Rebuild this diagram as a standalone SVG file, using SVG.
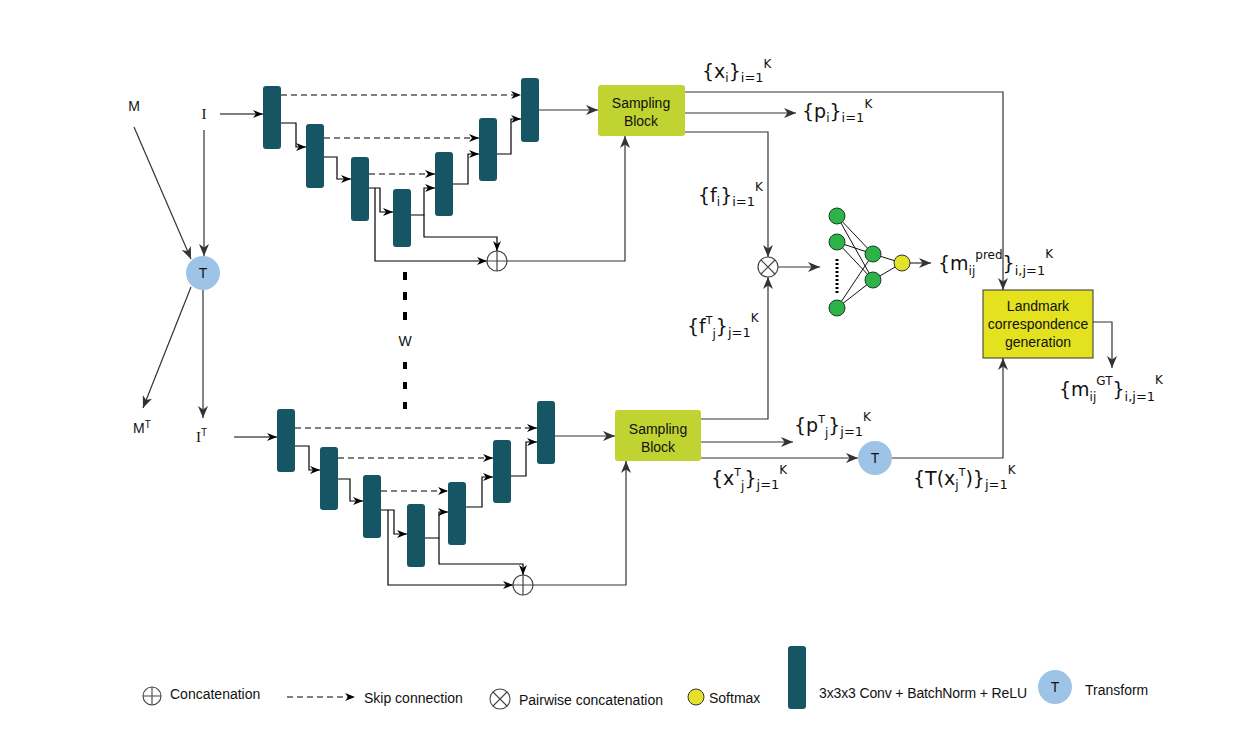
<svg xmlns="http://www.w3.org/2000/svg" width="1253" height="738" viewBox="0 0 1253 738">
<style>
.conv{fill:#155564;}
.samp{fill:#c0d331;}
.tc{fill:#9dc3e6;}
.ln{fill:none;stroke:#333;stroke-width:1.2;}
.lk{fill:none;stroke:#000;stroke-width:1.2;}
.dash{fill:none;stroke:#000;stroke-width:1.2;stroke-dasharray:6,4;}
.t{font-family:"Liberation Sans",Arial,sans-serif;font-size:14px;fill:#111;}
.lab{font-family:"DejaVu Sans",Verdana,sans-serif;fill:#111;}
.nn{fill:#2db34a;stroke:#1e3d22;stroke-width:1;}
.sm{fill:#e3e12a;stroke:#333;stroke-width:1;}
.op{fill:#fff;stroke:#444;stroke-width:1.2;}
</style>
<defs>
<marker id="a" markerUnits="userSpaceOnUse" markerWidth="10" markerHeight="8" refX="10" refY="4" orient="auto"><path d="M0,0 L10,4 L0,8 L3,4 z" fill="#000"/></marker>
<marker id="g" markerUnits="userSpaceOnUse" markerWidth="12" markerHeight="10" refX="12" refY="5" orient="auto"><path d="M0,0 L12,5 L0,10 L3.5,5 z" fill="#333"/></marker>
</defs>
<rect width="1253" height="738" fill="#fff"/>

<g id="connectors">
<!-- inputs -->
<line class="lk" x1="220" y1="114" x2="263" y2="114" marker-end="url(#a)"/>
<line class="ln" x1="204" y1="130" x2="204" y2="256" marker-end="url(#g)"/>
<line class="ln" x1="134" y1="127" x2="191" y2="259" marker-end="url(#g)"/>
<line class="ln" x1="191" y1="287" x2="143" y2="408" marker-end="url(#g)"/>
<line class="ln" x1="203" y1="290" x2="203" y2="418" marker-end="url(#g)"/>
<line class="lk" x1="234" y1="437" x2="277" y2="437" marker-end="url(#a)"/>
<!-- top unet -->
<line class="dash" x1="281" y1="95" x2="521" y2="95" marker-end="url(#a)"/>
<line class="dash" x1="324" y1="138" x2="479" y2="138" marker-end="url(#a)"/>
<line class="dash" x1="369" y1="174" x2="435" y2="174" marker-end="url(#a)"/>
<polyline class="lk" points="281,123 296,123 296,147 306,147" marker-end="url(#a)"/>
<polyline class="lk" points="324,157 337,157 337,179 351,179" marker-end="url(#a)"/>
<polyline class="lk" points="369,188 380,188 380,212 393,212" marker-end="url(#a)"/>
<polyline class="lk" points="375,188 375,261 487,261" marker-end="url(#a)"/>
<polyline class="lk" points="411,215 424,215 424,188 435,188" marker-end="url(#a)"/>
<polyline class="lk" points="424,215 424,237 497,237 497,251" marker-end="url(#a)"/>
<polyline class="lk" points="453,184 468,184 468,154 479,154" marker-end="url(#a)"/>
<polyline class="lk" points="497,154 511,154 511,119 521,119" marker-end="url(#a)"/>
<line class="ln" x1="539" y1="110" x2="598" y2="110" marker-end="url(#g)"/>
<polyline class="ln" points="507,261 625,261 625,136" marker-end="url(#g)"/>
<!-- top sampling outputs -->
<polyline class="ln" points="685,92 1003,92 1003,290" marker-end="url(#g)"/>
<line class="ln" x1="685" y1="113" x2="796" y2="113" marker-end="url(#g)"/>
<polyline class="ln" points="685,132 768,132 768,257" marker-end="url(#g)"/>
<polyline class="ln" points="701,419 768,419 768,277" marker-end="url(#g)"/>
<line class="ln" x1="778" y1="267" x2="820" y2="267" marker-end="url(#g)"/>
<!-- NN edges -->
<g stroke="#111" stroke-width="1">
<line x1="837" y1="216" x2="873" y2="254"/><line x1="837" y1="216" x2="873" y2="280"/>
<line x1="837" y1="242" x2="873" y2="254"/><line x1="837" y1="242" x2="873" y2="280"/>
<line x1="837" y1="308" x2="873" y2="254"/><line x1="837" y1="308" x2="873" y2="280"/>
<line x1="873" y1="254" x2="902" y2="263"/><line x1="873" y1="280" x2="902" y2="263"/>
</g>
<line x1="837" y1="259" x2="837" y2="293" stroke="#000" stroke-width="3" stroke-dasharray="2,2"/>
<line class="ln" x1="910" y1="263" x2="931" y2="263" marker-end="url(#g)"/>
<polyline class="ln" points="1093,322 1112,322 1112,368" marker-end="url(#g)"/>
<polyline class="ln" points="892,458 1003,458 1003,358" marker-end="url(#g)"/>
<!-- bottom unet -->
<line class="dash" x1="295" y1="428" x2="537" y2="428" marker-end="url(#a)"/>
<line class="dash" x1="338" y1="458" x2="493" y2="458" marker-end="url(#a)"/>
<line class="dash" x1="381" y1="491" x2="448" y2="491" marker-end="url(#a)"/>
<polyline class="lk" points="295,446 309,446 309,470 320,470" marker-end="url(#a)"/>
<polyline class="lk" points="338,479 350,479 350,501 363,501" marker-end="url(#a)"/>
<polyline class="lk" points="381,510 394,510 394,534 407,534" marker-end="url(#a)"/>
<polyline class="lk" points="388,510 388,585 513,585" marker-end="url(#a)"/>
<polyline class="lk" points="425,538 439,538 439,512 448,512" marker-end="url(#a)"/>
<polyline class="lk" points="439,538 439,564 523,564 523,575" marker-end="url(#a)"/>
<polyline class="lk" points="466,507 482,507 482,477 493,477" marker-end="url(#a)"/>
<polyline class="lk" points="511,476 526,476 526,442 537,442" marker-end="url(#a)"/>
<line class="ln" x1="555" y1="436" x2="615" y2="436" marker-end="url(#g)"/>
<polyline class="ln" points="533,585 626,585 626,461" marker-end="url(#g)"/>
<line class="ln" x1="701" y1="442" x2="793" y2="442" marker-end="url(#g)"/>
<line class="ln" x1="701" y1="458" x2="858" y2="458" marker-end="url(#g)"/>
<!-- shared weights -->
<line x1="405" y1="272" x2="405" y2="322" stroke="#000" stroke-width="4" stroke-dasharray="8,12"/>
<line x1="405" y1="362" x2="405" y2="410" stroke="#000" stroke-width="4" stroke-dasharray="7,13"/>
</g>

<g id="inputs">
<text class="t" x="134" y="111" text-anchor="middle">M</text>
<text x="204" y="119" text-anchor="middle" font-family="Liberation Serif,serif" font-size="15" fill="#111">I</text>
<text class="t" x="133" y="433">M<tspan font-size="10" dy="-5">T</tspan></text>
<text x="196" y="442" font-family="Liberation Serif,serif" font-size="15" fill="#111">I<tspan font-family="Liberation Sans,sans-serif" font-size="10" dy="-6">T</tspan></text>
<text class="t" x="405" y="346" text-anchor="middle">W</text>
</g>

<g id="transform-top">
<circle class="tc" cx="203" cy="273" r="17"/>
<text class="t" x="203" y="278" text-anchor="middle" font-size="15">T</text>
</g>

<g id="unet-top">
<rect class="conv" x="263" y="86" width="18" height="63" rx="3"/>
<rect class="conv" x="306" y="124" width="18" height="64" rx="3"/>
<rect class="conv" x="351" y="157" width="18" height="64" rx="3"/>
<rect class="conv" x="393" y="189" width="18" height="58" rx="3"/>
<rect class="conv" x="435" y="152" width="18" height="64" rx="3"/>
<rect class="conv" x="479" y="118" width="18" height="63" rx="3"/>
<rect class="conv" x="521" y="78" width="18" height="64" rx="3"/>
</g>
<g id="concat-top">
<circle class="op" cx="497" cy="261" r="10"/>
<path d="M487,261 H507 M497,251 V271" stroke="#444" stroke-width="1.2"/>
</g>

<g id="unet-bottom">
<rect class="conv" x="277" y="409" width="18" height="63" rx="3"/>
<rect class="conv" x="320" y="447" width="18" height="63" rx="3"/>
<rect class="conv" x="363" y="475" width="18" height="63" rx="3"/>
<rect class="conv" x="407" y="504" width="18" height="63" rx="3"/>
<rect class="conv" x="448" y="482" width="18" height="63" rx="3"/>
<rect class="conv" x="493" y="440" width="18" height="63" rx="3"/>
<rect class="conv" x="537" y="401" width="18" height="63" rx="3"/>
</g>
<g id="concat-bottom">
<circle class="op" cx="523" cy="585" r="10"/>
<path d="M513,585 H533 M523,575 V595" stroke="#444" stroke-width="1.2"/>
</g>

<g id="sampling-top">
<rect class="samp" x="598" y="85" width="87" height="51" rx="3"/>
<text class="t" x="641" y="108" text-anchor="middle">Sampling</text>
<text class="t" x="641" y="126" text-anchor="middle">Block</text>
</g>
<g id="sampling-bottom">
<rect class="samp" x="615" y="410" width="86" height="51" rx="3"/>
<text class="t" x="658" y="434" text-anchor="middle">Sampling</text>
<text class="t" x="658" y="452" text-anchor="middle">Block</text>
</g>

<g id="pairwise">
<circle class="op" cx="768" cy="267" r="10"/>
<path d="M761,260 L775,274 M775,260 L761,274" stroke="#444" stroke-width="1.2"/>
</g>

<g id="mlp">
<circle class="nn" cx="837" cy="216" r="8"/>
<circle class="nn" cx="837" cy="242" r="8"/>
<circle class="nn" cx="837" cy="308" r="8"/>
<circle class="nn" cx="873" cy="254" r="8"/>
<circle class="nn" cx="873" cy="280" r="8"/>
<circle class="sm" cx="902" cy="263" r="8"/>
</g>

<g id="landmark">
<rect x="983" y="290" width="110" height="68" fill="#e4e11f" stroke="#333" stroke-width="1"/>
<text class="t" x="1038" y="311" text-anchor="middle">Landmark</text>
<text class="t" x="1038" y="329" text-anchor="middle">correspondence</text>
<text class="t" x="1038" y="347" text-anchor="middle">generation</text>
</g>

<g id="transform-bottom">
<circle class="tc" cx="875" cy="458" r="17"/>
<text class="t" x="875" y="463" text-anchor="middle" font-size="15">T</text>
</g>

<g id="labels">
<text class="lab" x="702" y="78" font-size="19">{x<tspan font-size="12" y="82">i</tspan><tspan y="78">}</tspan><tspan font-size="13" y="82">i=1</tspan><tspan font-size="12" y="68">K</tspan></text>
<text class="lab" x="802" y="118" font-size="19">{p<tspan font-size="12" y="122">i</tspan><tspan y="118">}</tspan><tspan font-size="13" y="122">i=1</tspan><tspan font-size="12" y="108">K</tspan></text>
<text class="lab" x="698" y="202" font-size="19">{f<tspan font-size="12" y="206">i</tspan><tspan y="202">}</tspan><tspan font-size="13" y="206">i=1</tspan><tspan font-size="12" y="191">K</tspan></text>
<text class="lab" x="687" y="333" font-size="19">{f<tspan font-size="11" y="324">T</tspan><tspan font-size="12" y="338">j</tspan><tspan y="333">}</tspan><tspan font-size="13" y="337">j=1</tspan><tspan font-size="12" y="322">K</tspan></text>
<text class="lab" x="938" y="270" font-size="19">{m<tspan font-size="12" y="275">ij</tspan><tspan font-size="12" y="259">pred</tspan><tspan y="270">}</tspan><tspan font-size="13" y="275">i,j=1</tspan><tspan font-size="12" y="258">K</tspan></text>
<text class="lab" x="1059" y="396" font-size="19">{m<tspan font-size="12" y="401">ij</tspan><tspan font-size="12" y="385">GT</tspan><tspan y="396">}</tspan><tspan font-size="13" y="401">i,j=1</tspan><tspan font-size="12" y="384">K</tspan></text>
<text class="lab" x="794" y="432" font-size="19">{p<tspan font-size="11" y="423">T</tspan><tspan font-size="12" y="437">j</tspan><tspan y="432">}</tspan><tspan font-size="13" y="436">j=1</tspan><tspan font-size="12" y="421">K</tspan></text>
<text class="lab" x="711" y="485" font-size="19">{x<tspan font-size="11" y="476">T</tspan><tspan font-size="12" y="490">j</tspan><tspan y="485">}</tspan><tspan font-size="13" y="489">j=1</tspan><tspan font-size="12" y="474">K</tspan></text>
<text class="lab" x="913" y="485" font-size="19">{T(x<tspan font-size="12" y="489">j</tspan><tspan font-size="11" y="476">T</tspan><tspan y="485">)}</tspan><tspan font-size="13" y="489">j=1</tspan><tspan font-size="12" y="474">K</tspan></text>
</g>

<g id="legend">
<circle cx="152" cy="696" r="9" fill="#fff" stroke="#444" stroke-width="1.1"/>
<path d="M143,696 H161 M152,687 V705" stroke="#444" stroke-width="1.1"/>
<text class="t" x="170" y="699">Concatenation</text>
<line class="dash" x1="287" y1="697" x2="355" y2="697" stroke-dasharray="5,4" stroke-width="1" marker-end="url(#a)"/>
<text class="t" x="364" y="703">Skip connection</text>
<circle cx="500" cy="699" r="10" fill="#fff" stroke="#444" stroke-width="1.1"/>
<path d="M493,692 L507,706 M507,692 L493,706" stroke="#444" stroke-width="1.1"/>
<text class="t" x="519" y="705">Pairwise concatenation</text>
<circle class="sm" cx="696" cy="697" r="8"/>
<text class="t" x="709" y="703">Softmax</text>
<rect class="conv" x="788" y="646" width="18" height="63" rx="3"/>
<text class="t" x="819" y="698" textLength="208">3x3x3 Conv + BatchNorm + ReLU</text>
<circle class="tc" cx="1055" cy="687" r="17"/>
<text class="t" x="1055" y="692" text-anchor="middle" font-size="15">T</text>
<text class="t" x="1085" y="695">Transform</text>
</g>
</svg>
